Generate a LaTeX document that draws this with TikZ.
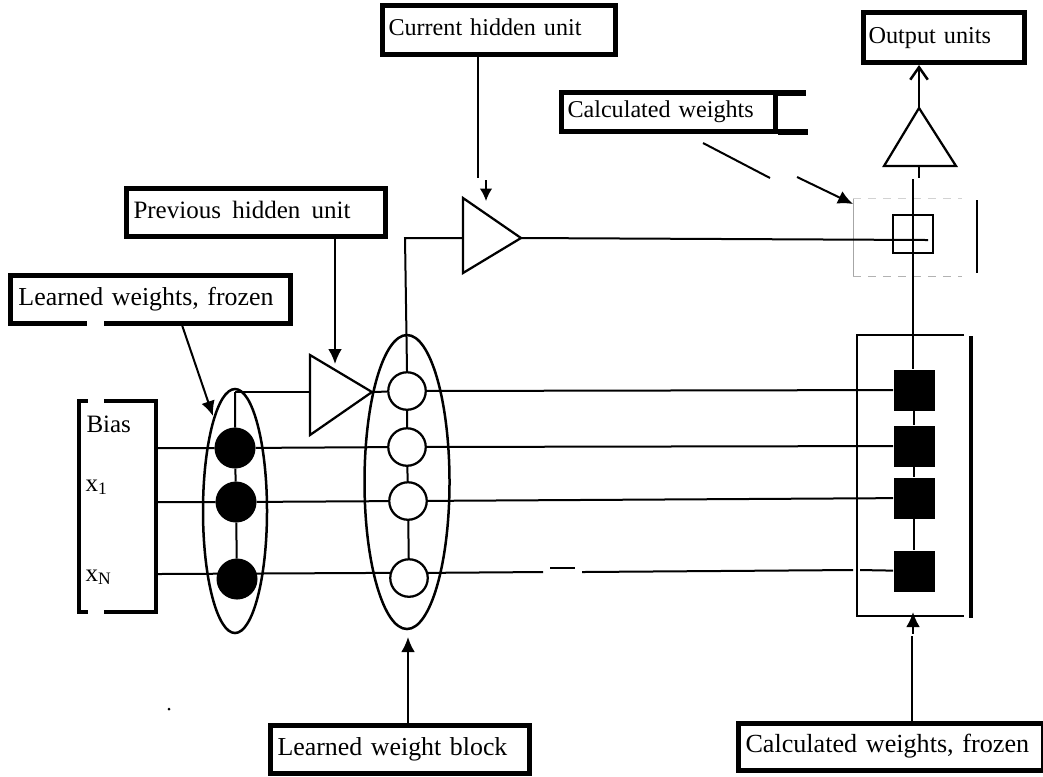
\documentclass[tikz,border=0pt]{standalone}
\usepackage{fontspec}
\setmainfont{Liberation Serif}
\usetikzlibrary{positioning, shapes.geometric, arrows.meta}

\begin{document}
\begin{tikzpicture}[
        x=0.4pt, y=-0.4pt,
        font=\fontsize{10}{12}\selectfont,
        labelbox/.style={rectangle, draw, fill=white, line width=2pt,
          align=left, anchor=north west, inner ysep=0pt, text height=6.8pt, text depth=2.2pt},
        unitblock/.style={ellipse, draw, line width=1pt, inner sep=0pt},
        amp/.style={draw, line width=0.9pt, line join=miter},
        learned/.style={circle, draw, fill=black, minimum size=16pt, inner sep=0pt},
        free/.style={circle, draw, fill=white, line width=0.9pt, minimum size=15pt, inner sep=0pt},
        calc/.style={rectangle, fill=black, minimum width=16.4pt, minimum height=16.4pt, inner sep=0pt},
        wire/.style={draw, line width=0.8pt},
        spine/.style={draw, line width=1.1pt},
        line/.style={draw, -{Latex[length=6pt, width=5.5pt]}, line width=0.8pt}
      ]
      \useasboundingbox (0, 0) rectangle (1043, 776);

      % ellipses behind the units
      \node [unitblock, minimum width=25.6pt, minimum height=97.6pt] (frozen_block) at (235, 511) {};
      \node [unitblock, minimum width=34pt, minimum height=117.6pt] (learn_block) at (407, 482) {};

      % boxes round the calculated weights
      \coordinate (fb_nw) at (857, 335);
      \coordinate (fb_ne) at (964, 335);
      \coordinate (fb_sw) at (857, 616);
      \coordinate (fb_se) at (964, 616);
      \draw [line width=1pt] (fb_ne) -- (fb_nw) -- (fb_sw) -- (fb_se);
      \draw [line width=1.6pt] (971, 336) -- (971, 618);
      \coordinate (cb_nw) at (853, 198);
      \draw [gray!70, line width=0.4pt] (853, 276) -- (cb_nw);
      \draw [gray!35, dashed, line width=0.4pt] (cb_nw) -- (962, 198);
      \draw [gray!60, dashed, line width=0.4pt] (853, 276) -- (962, 276);
      \draw [line width=0.8pt] (977, 200) -- (977, 273);

      % input units
      \coordinate (in_nw) at (79, 401);
      \coordinate (in_ne) at (156, 401);
      \coordinate (in_sw) at (79, 612);
      \coordinate (in_se) at (156, 612);
      \draw [line width=1.7pt] (in_nw) -- (in_ne) -- (in_se) -- (in_sw) -- cycle;
      \draw [white, line width=2.2pt] (88, 401) -- (104, 401);
      \draw [white, line width=2.2pt] (88, 612) -- (104, 612);
      \node [anchor=base west, inner sep=0pt] (bias) at (86, 432) {Bias};
      \node [anchor=base west, inner sep=0pt] (x_one) at (85, 491) {x\textsubscript{1}};
      \node [anchor=base west, inner sep=0pt] (x_n) at (85, 581) {x\textsubscript{N}};

      % hidden unit triangles
      \coordinate (t1_a) at (310, 355);
      \coordinate (t1_b) at (310, 435);
      \coordinate (t1_out) at (372, 392);
      \coordinate (t1_in) at (310, 392);
      \draw [amp] (t1_a) -- (t1_out) -- (t1_b) -- cycle;
      \coordinate (t2_a) at (463, 198);
      \coordinate (t2_b) at (463, 273);
      \coordinate (t2_out) at (521, 238);
      \coordinate (t2_in) at (463, 238);
      \draw [amp] (t2_a) -- (t2_out) -- (t2_b) -- cycle;
      \coordinate (t3_l) at (884, 166);
      \coordinate (t3_r) at (956, 166);
      \coordinate (t3_top) at (919, 108);
      \draw [amp] (t3_l) -- (t3_top) -- (t3_r) -- cycle;

      % units
      \node [learned] (b1) at (235, 448) {};
      \node [learned] (b2) at (236, 502) {};
      \node [learned] (b3) at (237, 579) {};
      \coordinate (b0) at (235, 392);

      \node [free] (w0) at (407, 391) {};
      \node [free] (w1) at (407, 447) {};
      \node [free] (w2) at (408, 501) {};
      \node [free] (w3) at (409, 578) {};

      \node [calc] (s0) at (914, 390) {};
      \node [calc] (s1) at (914, 446) {};
      \node [calc] (s2) at (914, 498) {};
      \node [calc] (s3) at (914, 571) {};
      \node [draw, rectangle, line width=0.9pt, minimum width=16pt, minimum height=15.2pt, inner sep=0pt] (sq) at (913, 234) {};

      % labels
      \node [labelbox, font=\fontsize{10.35}{12}\selectfont, text width=105.6pt, minimum height=19.2pt, inner xsep=3.2pt] (l_frozen) at (8, 273)
      {Learned weights, frozen};
      \node [labelbox, text width=98pt, minimum height=19.2pt, inner xsep=2.8pt] (l_prev) at (124, 186)
      {Previous\hspace{0.12em} hidden\hspace{0.12em} unit};
      \node [labelbox, font=\fontsize{9.65}{12}\selectfont, text width=88.4pt, minimum height=19.6pt, inner xsep=2.4pt] (l_curr) at (380, 3)
      {Current hidden unit};
      \node [labelbox, font=\fontsize{9.7}{12}\selectfont, text width=60.4pt, minimum height=20pt, inner xsep=2pt] (l_out) at (861, 10)
      {Output units};
      \node [labelbox, font=\fontsize{9.65}{12}\selectfont, text width=80.8pt, minimum height=15.6pt, inner xsep=2.4pt] (l_cw) at (559, 90)
      {Calculated weights};
      \node [labelbox, font=\fontsize{10.35}{12}\selectfont, text width=98pt, minimum height=19.2pt, inner xsep=2.8pt] (l_block) at (268, 723)
      {Learned weight block};
      \node [labelbox, font=\fontsize{10.45}{12}\selectfont, text width=116.4pt, minimum height=18.8pt, inner xsep=2.8pt] (l_cf) at (736, 721)
      {Calculated weights, frozen};

      % gap in the frozen label, stubs of the calculated label
      \draw [white, line width=2.6pt] (87, 323.5) -- (104, 323.5);
      \draw [line width=2.2pt] (l_cw.north east) ++(0, 3) -- +(28, 0);
      \draw [line width=2.2pt] (l_cw.south east) ++(0, -2) -- +(30, 0);

      % wires
      \coordinate (r3_gap_a) at (543, 572);
      \coordinate (r3_gap_b) at (550, 568);
      \coordinate (r3_gap_c) at (575, 568);
      \coordinate (r3_gap_d) at (582, 572);
      \coordinate (r3_gap_e) at (853, 570);
      \coordinate (r3_gap_f) at (860, 570);
      \path [wire] (in_ne |- b1) -- (b1) -- (w1) -- (s1);
      \path [wire] (in_ne |- b2) -- (b2) -- (w2) -- (s2);
      \path [wire] (157, 574) -- (w3.165);
      \path [wire] (w3.15) -- (r3_gap_a);
      \path [draw, line width=0.5pt] (r3_gap_b) -- (r3_gap_c);
      \path [wire] (r3_gap_d) -- (r3_gap_e);
      \path [wire] (r3_gap_f) -- (s3);
      \path [wire] (b0) -- (t1_in);
      \path [wire] (t1_out) -- (w0);
      \path [wire] (w0) -- (s0);
      \path [wire] (b0) -- (b1) -- (b2) -- (b3);
      \path [wire] (w0) -- (w1) -- (w2) -- (w3);
      \path [wire] (w0.north) -- (405, 238) -- (t2_in);
      \path [wire] (t2_out) -- (928, 240);
      \coordinate (out_stub) at (913, 179);
      \path [spine] (out_stub) -- (out_stub |- s0.north);
      \path [spine] (s0) -- (s1) -- (s2) -- (s3);
      \path [spine] (919, 166) -- (919, 178);

      % arrows
      \coordinate (prev_tip) at (335, 364);
      \coordinate (curr_end) at (478, 178);
      \coordinate (block_tip) at (408, 637);
      \coordinate (cf_end) at (912, 636);
      \path [line] (l_prev.south -| prev_tip) -- (prev_tip);
      \path [line] (182, 325) -- (213, 416);
      \path [line] (l_block.north -| block_tip) -- (block_tip);
      \path [wire] (l_curr.south -| curr_end) -- (curr_end);
      \path [draw, -{Latex[length=5pt, width=5pt]}, line width=0.6pt] (486, 180) -- (486, 201);
      \path [wire] (703, 143) -- (770, 178);
      \path [line] (797, 177) -- (853, 204);
      \path [spine] (l_cf.north -| cf_end) -- (cf_end);
      \path [line] (913, 634) -- (913, 612);
      \path [draw, -{Straight Barb[length=5pt, width=7pt]}, line width=1pt] (t3_top) -- (l_out.south -| t3_top);

      \fill (169, 709) circle (1.5);
    \end{tikzpicture}
\end{document}
